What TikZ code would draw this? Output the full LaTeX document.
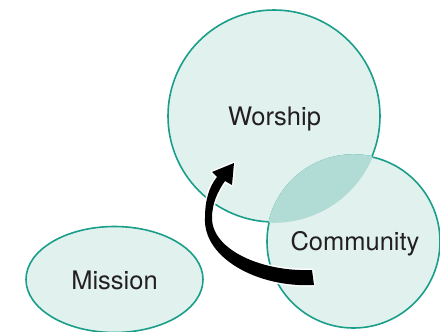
\documentclass[tikz,border=0pt]{standalone}
\usepackage{fontspec}
\setmainfont{TeX Gyre Heros}
\definecolor{ringc}{HTML}{1A9E8A}
\definecolor{fillc}{HTML}{E1F2EE}
\definecolor{lensc}{HTML}{B0DCD5}
\definecolor{txt}{HTML}{231F20}
\begin{document}
\begin{tikzpicture}[x=1pt,y=-1pt,
  ring/.style={draw=ringc, line width=1.6pt, fill=fillc},
  lensfill/.style={draw=lensc, line width=1.6pt, fill=lensc},
  lbl/.style={font=\fontsize{25.5}{30}\selectfont, text=txt, anchor=base, inner sep=0pt},
  bigarrow/.style={fill=black, preaction={draw=white, line width=3pt, line join=round}}]
\useasboundingbox (0,0) rectangle (440,332);
\coordinate (wc) at (274,116);
\coordinate (cc) at (353.5,241.5);
\coordinate (mc) at (114.5,279.5);
\path[ring] (wc) circle[radius=106];
\path[ring] (cc) circle[radius=86.5];
\path[ring] (mc) ellipse[x radius=88.5, y radius=53];
\begin{scope}
  \clip (wc) circle[radius=106];
  \path[lensfill] (cc) circle[radius=86.5];
\end{scope}
\begin{scope}
  \clip (cc) circle[radius=86.5];
  \path[lensfill] (wc) circle[radius=106];
\end{scope}
\node[lbl] (w) at (274.5,125) {Worship};
\node[lbl] (c) at (355,250) {Community};
\node[lbl] (m) at (114.5,289) {Mission};
\coordinate (tailb) at (314,285);
\coordinate (tailt) at (312,270);
\coordinate (tip) at (234,163);
\path[bigarrow] (tailb) .. controls (258,288) and (203,258) .. (205,218)
  .. controls (205,200) and (209,187) .. (217,177) -- (212,172) -- (tip)
  -- (232,185) -- (225,181) .. controls (218,191) and (212,203) .. (212,218)
  .. controls (212,250) and (262,272) .. (tailt) -- cycle;
\end{tikzpicture}
\end{document}
